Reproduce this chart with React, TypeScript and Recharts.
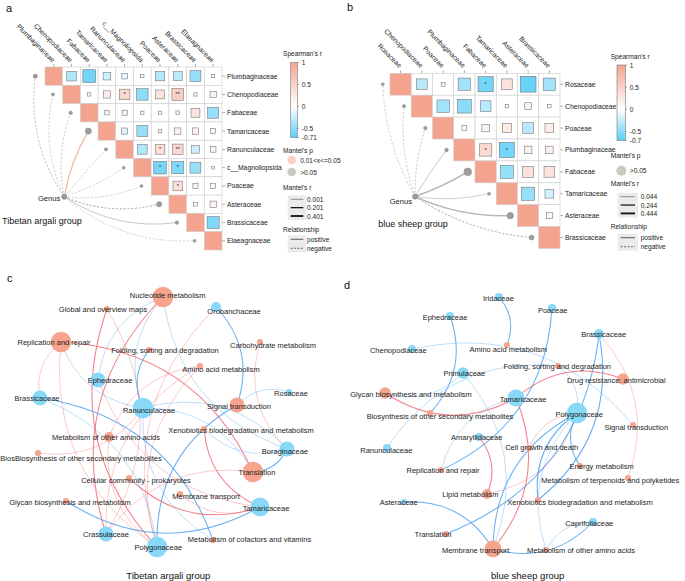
import React from "react";
import { ScatterChart, Scatter, XAxis, YAxis } from "recharts";

const FONT = "'Liberation Sans', Arial, Helvetica, sans-serif";
const POS = "#F4A38F";
const NEG = "#5CCEF7";
const GRID = "#CDCDCD";
const LINK_GREY = "#B7B7AF";
const LINK_PINK = "#F6B8A7";
const NODE_FUNC = "#F6A48D";
const NODE_TAXON = "#88D8F8";
const EDGE_POS = "#F25F6C";
const EDGE_NEG = "#3E9CF1";

// ---------- a: Tibetan argali group ----------
const argaliTaxa = ["Plumbaginaceae", "Chenopodiaceae", "Fabaceae", "Tamaricaceae", "Ranunculaceae", "c__Magnoliopsida", "Poaceae", "Asteraceae", "Brassicaceae", "Elaeagnaceae"];
// r for the cells right of the diagonal, row by row
const argaliR = [
  [-0.35, -0.62, -0.22, -0.12, -0.04, -0.33, -0.3, -0.45, -0.04],
  [0.04, 0.2, 0.42, -0.5, 0.3, 0.52, -0.04, 0.15],
  [-0.07, -0.1, -0.04, -0.04, -0.05, 0.3, -0.45],
  [-0.14, -0.45, 0.05, 0.15, 0.15, 0.1],
  [-0.35, 0.35, 0.42, -0.22, 0.12],
  [-0.6, -0.55, -0.45, -0.03],
  [0.35, 0.1, 0.1],
  [-0.05, 0.15],
  [-0.55],
];
const argaliSig: [number, number, string][] = [[1, 4, "*"], [1, 7, "**"], [4, 6, "*"], [4, 7, "**"], [5, 6, "*"], [5, 7, "*"], [6, 7, "*"]];
const argaliMantelR = [0.15, 0.06, 0.1, 0.3, 0.07, 0.05, 0.05, 0.22, 0.1, 0.05];
const argaliMantelP = ["ns", "ns", "ns", "sig", "ns", "ns", "ns", "ns", "ns", "ns"];
const argaliMantelSign = ["neg", "neg", "neg", "pos", "neg", "neg", "neg", "neg", "pos", "neg"];
const argaliGenus = { x: 0.59, y: 6.59 };
const argaliBarTicks = [1, 0.5, 0, -0.5, -0.71];
const argaliRTicks = ["0.001", "0.201", "0.401"];

// ---------- b: blue sheep group ----------
const sheepTaxa = ["Rosaceae", "Chenopodiaceae", "Poaceae", "Plumbaginaceae", "Fabaceae", "Tamaricaceae", "Asteraceae", "Brassicaceae"];
const sheepR = [
  [-0.3, -0.04, -0.4, -0.6, 0.3, -0.65, -0.4],
  [-0.4, -0.5, -0.3, 0.03, 0.12, -0.03],
  [0.06, 0.15, 0.22, -0.3, 0.2],
  [0.4, -0.6, 0.15, 0.15],
  [-0.45, 0.32, 0.3],
  [-0.45, -0.2],
  [0.1],
];
const sheepSig: [number, number, string][] = [[0, 4, "*"], [3, 4, "*"], [3, 5, "*"]];
const sheepMantelR = [0.06, 0.08, 0.1, 0.1, 0.42, 0.06, 0.32, 0.2];
const sheepMantelP = ["ns", "ns", "ns", "ns", "ns", "ns", "ns", "ns"];
const sheepMantelSign = ["neg", "neg", "neg", "pos", "pos", "pos", "pos", "neg"];
const sheepGenus = { x: 0.68, y: 5.13 };
const sheepBarTicks = [1, 0.5, 0, -0.5, -0.7];
const sheepRTicks = ["0.044", "0.244", "0.444"];

// ---------- c / d: networks (layout coordinates, degree) ----------
type NetNode = { name: string; x: number; y: number; deg: number; kind: "taxon" | "func" };
type NetEdge = [string, string, "pos" | "neg", number];

const argaliNodes: NetNode[] = [
  { name: "Nucleotide metabolism", x: 163, y: 297, deg: 9, kind: "func" },
  { name: "Global and overview maps", x: 107, y: 309, deg: 1, kind: "func" },
  { name: "Orobanchaceae", x: 216, y: 307, deg: 3, kind: "taxon" },
  { name: "Replication and repair", x: 61, y: 342, deg: 9, kind: "func" },
  { name: "Carbohydrate metabolism", x: 260, y: 342, deg: 1, kind: "func" },
  { name: "Folding, sorting and degradation", x: 149, y: 350, deg: 1, kind: "func" },
  { name: "Amino acid metabolism", x: 200, y: 366, deg: 1, kind: "func" },
  { name: "Ephedraceae", x: 98, y: 380, deg: 6, kind: "taxon" },
  { name: "Brassicaceae", x: 40, y: 398, deg: 6, kind: "taxon" },
  { name: "Rosaceae", x: 289, y: 392, deg: 1, kind: "taxon" },
  { name: "Ranunculaceae", x: 143, y: 408, deg: 9, kind: "taxon" },
  { name: "Signal transduction", x: 237, y: 405, deg: 6, kind: "func" },
  { name: "Xenobiotics biodegradation and metabolism", x: 204, y: 429, deg: 1, kind: "func" },
  { name: "Metabolism of other amino acids", x: 109, y: 437, deg: 3, kind: "func" },
  { name: "BiosBiosynthesis of other secondary metabolites", x: 38, y: 453, deg: 1, kind: "func" },
  { name: "Boraginaceae", x: 287, y: 449, deg: 6, kind: "taxon" },
  { name: "Translation", x: 253, y: 472, deg: 9, kind: "func" },
  { name: "Cellular community - prokaryotes", x: 129, y: 478, deg: 1, kind: "func" },
  { name: "Membrane transport", x: 180, y: 494, deg: 1, kind: "func" },
  { name: "Glycan biosynthesis and metabolism", x: 66, y: 501, deg: 1, kind: "func" },
  { name: "Tamaricaceae", x: 260, y: 507, deg: 8, kind: "taxon" },
  { name: "Crassulaceae", x: 106, y: 534, deg: 6, kind: "taxon" },
  { name: "Metabolism of cofactors and vitamins", x: 213, y: 540, deg: 1, kind: "func" },
  { name: "Polygonaceae", x: 157, y: 547, deg: 9, kind: "taxon" },
];

const argaliEdges: NetEdge[] = [
  ["Nucleotide metabolism", "Ranunculaceae", "neg", 1],
  ["Folding, sorting and degradation", "Ranunculaceae", "neg", 2],
  ["Nucleotide metabolism", "Ephedraceae", "neg", 1],
  ["Nucleotide metabolism", "Boraginaceae", "neg", 1],
  ["Nucleotide metabolism", "Crassulaceae", "pos", 2],
  ["Global and overview maps", "Polygonaceae", "pos", 2],
  ["Crassulaceae", "Global and overview maps", "pos", 1],
  ["Replication and repair", "Brassicaceae", "pos", 1],
  ["Replication and repair", "Polygonaceae", "pos", 1],
  ["Replication and repair", "Ranunculaceae", "neg", 1],
  ["Translation", "Replication and repair", "pos", 2],
  ["Signal transduction", "Orobanchaceae", "neg", 2],
  ["Orobanchaceae", "Polygonaceae", "pos", 1],
  ["Carbohydrate metabolism", "Boraginaceae", "pos", 1],
  ["Amino acid metabolism", "Metabolism of other amino acids", "pos", 1],
  ["Amino acid metabolism", "Polygonaceae", "pos", 1],
  ["Amino acid metabolism", "Crassulaceae", "pos", 1],
  ["Metabolism of other amino acids", "Polygonaceae", "pos", 1],
  ["Ephedraceae", "Tamaricaceae", "pos", 1],
  ["Metabolism of cofactors and vitamins", "Brassicaceae", "neg", 2],
  ["Polygonaceae", "Brassicaceae", "neg", 1],
  ["Translation", "Ranunculaceae", "neg", 1],
  ["Boraginaceae", "Ranunculaceae", "neg", 1],
  ["Rosaceae", "Signal transduction", "neg", 1],
  ["Signal transduction", "Polygonaceae", "neg", 2],
  ["Xenobiotics biodegradation and metabolism", "Tamaricaceae", "pos", 2],
  ["Xenobiotics biodegradation and metabolism", "Boraginaceae", "neg", 1],
  ["Translation", "Boraginaceae", "neg", 2],
  ["BiosBiosynthesis of other secondary metabolites", "Ranunculaceae", "pos", 1],
  ["Cellular community - prokaryotes", "Tamaricaceae", "pos", 2],
  ["Membrane transport", "Tamaricaceae", "pos", 1],
  ["Glycan biosynthesis and metabolism", "Tamaricaceae", "neg", 2],
  ["Translation", "Crassulaceae", "pos", 1],
  ["Ranunculaceae", "Metabolism of cofactors and vitamins", "neg", 1],
];

const sheepNodes: NetNode[] = [
  { name: "Iridaceae", x: 499, y: 297, deg: 2, kind: "taxon" },
  { name: "Poaceae", x: 552, y: 308, deg: 2, kind: "taxon" },
  { name: "Ephedraceae", x: 450, y: 316, deg: 2, kind: "taxon" },
  { name: "Brassicaceae", x: 599, y: 334, deg: 3, kind: "taxon" },
  { name: "Amino acid metabolism", x: 507, y: 345, deg: 1, kind: "func" },
  { name: "Chenopodiaceae", x: 412, y: 349, deg: 2, kind: "taxon" },
  { name: "Folding, sorting and degradation", x: 558, y: 366, deg: 1, kind: "func" },
  { name: "Primulaceae", x: 463, y: 373, deg: 4, kind: "taxon" },
  { name: "Drug resistance: antimicrobial", x: 623, y: 379, deg: 4, kind: "func" },
  { name: "Glycan biosynthesis and metabolism", x: 385, y: 393, deg: 4, kind: "func" },
  { name: "Tamaricaceae", x: 516, y: 398, deg: 7, kind: "taxon" },
  { name: "Biosynthesis of other secondary metabolites", x: 430, y: 413, deg: 1, kind: "func" },
  { name: "Polygonaceae", x: 577, y: 413, deg: 9, kind: "taxon" },
  { name: "Signal transduction", x: 633, y: 425, deg: 1, kind: "func" },
  { name: "Amaryllidaceae", x: 479, y: 437, deg: 2, kind: "taxon" },
  { name: "Ranunculaceae", x: 387, y: 448, deg: 2, kind: "taxon" },
  { name: "Cell growth and death", x: 529, y: 448, deg: 1, kind: "func" },
  { name: "Replication and repair", x: 441, y: 470, deg: 1, kind: "func" },
  { name: "Energy metabolism", x: 580, y: 466, deg: 1, kind: "func" },
  { name: "Metabolism of terpenoids and polyketides", x: 628, y: 478, deg: 1, kind: "func" },
  { name: "Lipid metabolism", x: 487, y: 494, deg: 3, kind: "func" },
  { name: "Asteraceae", x: 404, y: 502, deg: 1, kind: "taxon" },
  { name: "Xenobiotics biodegradation and metabolism", x: 538, y: 500, deg: 1, kind: "func" },
  { name: "Caprifoliaceae", x: 593, y: 522, deg: 2, kind: "taxon" },
  { name: "Translation", x: 446, y: 534, deg: 1, kind: "func" },
  { name: "Membrane transport", x: 493, y: 549, deg: 7, kind: "func" },
  { name: "Metabolism of other amino acids", x: 546, y: 550, deg: 1, kind: "func" },
];

const sheepEdges: NetEdge[] = [
  ["Amino acid metabolism", "Iridaceae", "neg", 2],
  ["Biosynthesis of other secondary metabolites", "Ephedraceae", "neg", 2],
  ["Signal transduction", "Chenopodiaceae", "neg", 1],
  ["Replication and repair", "Poaceae", "neg", 2],
  ["Translation", "Brassicaceae", "neg", 2],
  ["Metabolism of terpenoids and polyketides", "Brassicaceae", "pos", 1],
  ["Xenobiotics biodegradation and metabolism", "Brassicaceae", "neg", 2],
  ["Folding, sorting and degradation", "Ranunculaceae", "neg", 1],
  ["Glycan biosynthesis and metabolism", "Primulaceae", "neg", 1],
  ["Membrane transport", "Primulaceae", "neg", 1],
  ["Glycan biosynthesis and metabolism", "Tamaricaceae", "pos", 2],
  ["Drug resistance: antimicrobial", "Tamaricaceae", "pos", 2],
  ["Membrane transport", "Tamaricaceae", "pos", 2],
  ["Tamaricaceae", "Replication and repair", "neg", 1],
  ["Lipid metabolism", "Amaryllidaceae", "pos", 2],
  ["Polygonaceae", "Folding, sorting and degradation", "neg", 1],
  ["Polygonaceae", "Cell growth and death", "pos", 1],
  ["Lipid metabolism", "Polygonaceae", "pos", 1],
  ["Polygonaceae", "Energy metabolism", "neg", 2],
  ["Polygonaceae", "Xenobiotics biodegradation and metabolism", "neg", 2],
  ["Polygonaceae", "Membrane transport", "neg", 2],
  ["Polygonaceae", "Metabolism of other amino acids", "neg", 1],
  ["Membrane transport", "Asteraceae", "neg", 2],
  ["Membrane transport", "Caprifoliaceae", "neg", 2],
  ["Caprifoliaceae", "Metabolism of other amino acids", "neg", 1],
];

// label nudges relative to node centres
const argaliLabelShift: Record<string, [number, number]> = {
  "Nucleotide metabolism": [4.7, -2], "Global and overview maps": [-4, 0], "Orobanchaceae": [18, 4.5],
  "Replication and repair": [-7, 0], "Carbohydrate metabolism": [13, 3], "Folding, sorting and degradation": [16, 0],
  "Amino acid metabolism": [21, 3], "Ephedraceae": [12, 0], "Brassicaceae": [-3, 0], "Rosaceae": [2, 1],
  "Ranunculaceae": [6, 2.5], "Signal transduction": [2, 1], "Xenobiotics biodegradation and metabolism": [37, 1.5],
  "Metabolism of other amino acids": [-3, 0.5], "BiosBiosynthesis of other secondary metabolites": [43, 5],
  "Boraginaceae": [-2, 2.5], "Translation": [4, 0.3], "Cellular community - prokaryotes": [7, 2.7],
  "Membrane transport": [26, 2], "Glycan biosynthesis and metabolism": [4, 1], "Tamaricaceae": [6, 1],
  "Crassulaceae": [0, 0.3], "Metabolism of cofactors and vitamins": [36.5, -1], "Polygonaceae": [1.3, 0],
};
const sheepLabelShift: Record<string, [number, number]> = {
  "Iridaceae": [-0.6, 1.3], "Poaceae": [0.7, 2.4], "Ephedraceae": [-5, 1.3], "Brassicaceae": [4.7, 0.7],
  "Amino acid metabolism": [1.3, 4], "Chenopodiaceae": [-13.7, 1.4], "Folding, sorting and degradation": [-0.8, 0],
  "Primulaceae": [1.3, 0], "Drug resistance: antimicrobial": [-6.7, 1.4], "Glycan biosynthesis and metabolism": [26, 1],
  "Tamaricaceae": [7, 1.7], "Biosynthesis of other secondary metabolites": [10, 3.4], "Polygonaceae": [2.2, 1.7],
  "Signal transduction": [3.3, 2.3], "Amaryllidaceae": [-2.3, 0], "Ranunculaceae": [-0.7, 2.4],
  "Cell growth and death": [12.7, -1], "Replication and repair": [2, 0.7], "Energy metabolism": [21.7, 0],
  "Metabolism of terpenoids and polyketides": [-17.7, 2.4], "Lipid metabolism": [-16.6, 0.7], "Asteraceae": [-5.3, 0],
  "Xenobiotics biodegradation and metabolism": [42, 2.7], "Caprifoliaceae": [-3.7, 1.6], "Translation": [-13, 0.3],
  "Membrane transport": [-17.3, 1.4], "Metabolism of other amino acids": [35, 0],
};

// ---------- helpers ----------
function hexRgb(h: string) {
  const v = parseInt(h.slice(1), 16);
  return [(v >> 16) & 255, (v >> 8) & 255, v & 255];
}
function mix(a: string, b: string, t: number) {
  const p = hexRgb(a), q = hexRgb(b);
  const c = p.map((x, i) => Math.round(x + (q[i] - x) * t));
  return `rgb(${c[0]},${c[1]},${c[2]})`;
}
function corrColor(r: number, rmin: number) {
  return r >= 0 ? mix("#FFFFFF", POS, r) : mix("#FFFFFF", NEG, Math.min(1, r / rmin));
}
// curve bowing away from the triangle (towards bottom-left)
function mantelPath(a: any, b: any, k: number) {
  const dx = b.x - a.x, dy = b.y - a.y, len = Math.hypot(dx, dy) || 1;
  let px = -dy / len, py = dx / len;
  const dot = (-px + py) / Math.SQRT2;
  if (dot < 0) { px = -px; py = -py; }
  const off = k * len * Math.abs(dot);
  const mx = (a.x + b.x) / 2 + px * off, my = (a.y + b.y) / 2 + py * off;
  return `M${a.x},${a.y} Q${mx},${my} ${b.x},${b.y}`;
}
// arc bowing to the right of travel
function arcPath(a: any, b: any, k: number) {
  const dx = b.x - a.x, dy = b.y - a.y;
  const mx = (a.x + b.x) / 2 - dy * k, my = (a.y + b.y) / 2 + dx * k;
  return `M${a.x},${a.y} Q${mx},${my} ${b.x},${b.y}`;
}
const blank = () => <g />;

// ---------- correlation + mantel panel ----------
type CorrProps = {
  taxa: string[]; rows: number[][]; sig: [number, number, string][]; rmin: number;
  mR: number[]; mP: string[]; mSign: string[]; genus: { x: number; y: number }; endShift: number;
  left: number; top: number; width: number; height: number;
  gridLeft: number; gridRight: number; gridTop: number; gridBottom: number; xMin: number;
  colGap: number; genusDx: number; genusDy: number; bend: number;
};

function CorrPanel(p: CorrProps) {
  const n = p.taxa.length;
  const cw = (p.gridRight - p.gridLeft) / n;
  const ch = (p.gridBottom - p.gridTop) / n;
  const idx = p.taxa.map((_, i) => i);
  const cells: any[] = [];
  idx.forEach((i) => {
    for (let j = i; j < n; j++) {
      const s = p.sig.find(([a, b]) => a === i && b === j);
      cells.push({ x: j, y: i, r: i === j ? 1 : p.rows[i][j - i - 1], diag: i === j, sig: s ? s[2] : "" });
    }
  });
  const ends = idx.map((i) => ({ x: i - p.endShift, y: i, i }));
  const plotLeft = p.gridLeft - (-0.5 - p.xMin) * cw;

  const cellShape = (sp: any) => {
    const { cx, cy, payload } = sp;
    const x0 = cx - cw / 2, y0 = cy - ch / 2;
    if (payload.diag) {
      return <rect x={x0} y={y0} width={cw} height={ch} fill={POS} stroke={GRID} strokeWidth={0.6} />;
    }
    const s = Math.min(cw, ch) * 0.92 * Math.sqrt(Math.abs(payload.r));
    return (
      <g>
        <rect x={x0} y={y0} width={cw} height={ch} fill="#fff" stroke={GRID} strokeWidth={0.6} />
        <rect x={cx - s / 2} y={cy - s / 2} width={s} height={s} fill={corrColor(payload.r, p.rmin)} stroke="#6e6e6e" strokeWidth={0.55} />
        {payload.sig && (
          <text x={cx} y={cy + 1.6} textAnchor="middle" fontSize={5.5} fontFamily={FONT} fill="#222">{payload.sig}</text>
        )}
      </g>
    );
  };
  const endShape = (sp: any) => (
    <circle cx={sp.cx} cy={sp.cy} r={1.2 + 6.5 * p.mR[sp.payload.i]} fill="#9c9c9c" stroke="#8a8a8a" strokeWidth={0.4} />
  );
  const genusShape = (sp: any) => (
    <g>
      <circle cx={sp.cx} cy={sp.cy} r={2.6} fill="#9a9a9a" stroke="#777" strokeWidth={0.5} />
      <text x={sp.cx + p.genusDx} y={sp.cy + p.genusDy} textAnchor="end" dominantBaseline="central" fontSize={7.6} fontFamily={FONT} fill="#222">Genus</text>
    </g>
  );

  return (
    <div style={{ position: "absolute", left: p.left, top: p.top }}>
      <ScatterChart
        width={p.width}
        height={p.height}
        margin={{ top: 0, right: 0, left: plotLeft - p.left, bottom: p.height - (p.gridBottom - p.top) }}
      >
        <XAxis
          type="number"
          dataKey="x"
          orientation="top"
          height={p.gridTop - p.top}
          domain={[p.xMin, n - 0.5]}
          ticks={idx}
          interval={0}
          axisLine={false}
          tickLine={{ stroke: "#555", strokeWidth: 0.5 }}
          tickSize={3}
          tickMargin={p.colGap}
          tick={(tp: any) => (
            <text
              x={tp.x}
              y={tp.y}
              transform={`rotate(45, ${tp.x}, ${tp.y})`}
              textAnchor="end"
              dominantBaseline="central"
              fontSize={6.8}
              fontFamily={FONT}
              fill="#222"
            >
              {p.taxa[tp.payload.value]}
            </text>
          )}
        />
        <YAxis
          type="number"
          dataKey="y"
          orientation="right"
          width={p.left + p.width - p.gridRight}
          domain={[-0.5, n - 0.5]}
          reversed
          ticks={idx}
          interval={0}
          axisLine={false}
          tickLine={{ stroke: "#555", strokeWidth: 0.5 }}
          tickSize={3}
          tickMargin={2}
          tick={(tp: any) => (
            <text x={tp.x} y={tp.y} textAnchor="start" dominantBaseline="central" fontSize={6.8} fontFamily={FONT} fill="#222">
              {p.taxa[tp.payload.value]}
            </text>
          )}
        />
        <Scatter data={cells} shape={cellShape} isAnimationActive={false} />
        {idx.map((i) => {
          const color = p.mP[i] === "sig" ? LINK_PINK : LINK_GREY;
          const w = 0.5 + 2.6 * p.mR[i];
          const dash = p.mSign[i] === "neg" ? "2.2 1.6" : undefined;
          return (
            <Scatter
              key={"link" + i}
              data={[p.genus, ends[i]]}
              isAnimationActive={false}
              shape={blank}
              line={(lp: any) => {
                const pts = lp.points || [];
                if (pts.length < 2) return <g />;
                return <path d={mantelPath(pts[0], pts[1], p.bend)} fill="none" stroke={color} strokeWidth={w} strokeDasharray={dash} />;
              }}
            />
          );
        })}
        <Scatter data={ends} shape={endShape} isAnimationActive={false} />
        <Scatter data={[p.genus]} shape={genusShape} isAnimationActive={false} />
      </ScatterChart>
    </div>
  );
}

// ---------- network panel ----------
type NetProps = {
  nodes: NetNode[]; edges: NetEdge[]; shift: Record<string, [number, number]>;
  left: number; top: number; width: number; height: number;
};

function NetPanel(p: NetProps) {
  const byName: Record<string, NetNode> = {};
  p.nodes.forEach((nd) => (byName[nd.name] = nd));
  const radius = (deg: number) => 2.2 + 0.9 * deg;
  const nodeShape = (sp: any) => (
    <circle cx={sp.cx} cy={sp.cy} r={radius(sp.payload.deg)} fill={sp.payload.kind === "taxon" ? NODE_TAXON : NODE_FUNC} />
  );
  const labelShape = (sp: any) => {
    const s = p.shift[sp.payload.name] || [0, 0];
    return (
      <text x={sp.cx + s[0]} y={sp.cy + s[1]} textAnchor="middle" dominantBaseline="central" fontSize={7.5} fontFamily={FONT} fill="#1d1d1d">
        {sp.payload.name}
      </text>
    );
  };
  return (
    <div style={{ position: "absolute", left: p.left, top: p.top }}>
      <ScatterChart width={p.width} height={p.height} margin={{ top: 0, right: 0, left: 0, bottom: 0 }}>
        <XAxis type="number" dataKey="x" domain={[p.left, p.left + p.width]} hide />
        <YAxis type="number" dataKey="y" domain={[p.top, p.top + p.height]} reversed hide />
        {p.edges.map(([s, t, sign, w], k) => {
          const stroke = sign === "pos" ? EDGE_POS : EDGE_NEG;
          const width = w === 1 ? 0.75 : w === 2 ? 1.05 : 1.4;
          const op = w === 1 ? 0.45 : w === 2 ? 0.8 : 0.92;
          return (
            <Scatter
              key={"e" + k}
              data={[byName[s], byName[t]]}
              isAnimationActive={false}
              shape={blank}
              line={(lp: any) => {
                const pts = lp.points || [];
                if (pts.length < 2) return <g />;
                return <path d={arcPath(pts[0], pts[1], 0.3)} fill="none" stroke={stroke} strokeWidth={width} strokeOpacity={op} />;
              }}
            />
          );
        })}
        <Scatter data={p.nodes} shape={nodeShape} isAnimationActive={false} />
        <Scatter data={p.nodes} shape={labelShape} isAnimationActive={false} />
      </ScatterChart>
    </div>
  );
}

// ---------- legends ----------
type LegendProps = {
  id: string; tx: number; bx: number; bw: number; by: number; bh: number; ticks: number[]; min: number;
  pTitle: number; pItems: { fill: string; label: string }[]; pY: number; pX: number; pR: number;
  rTitle: number; rTicks: string[]; rY: number; lx1: number; lx2: number; textX: number;
  relTitle: number; relY: number;
};

function Legend(l: LegendProps) {
  const fs = 6.6;
  const zero = (1 / (1 - l.min)) * 100;
  const ty = (v: number) => l.by + ((1 - v) / (1 - l.min)) * l.bh;
  const rStep = 8.35;
  return (
    <g fontFamily={FONT} fill="#222">
      <defs>
        <linearGradient id={l.id} x1="0" y1="0" x2="0" y2="1">
          <stop offset="0%" stopColor={POS} />
          <stop offset={`${zero}%`} stopColor="#FFFFFF" />
          <stop offset="100%" stopColor={NEG} />
        </linearGradient>
      </defs>
      <text x={l.tx} y={l.by - 9} fontSize={fs} dominantBaseline="central">Spearman's r</text>
      <rect x={l.bx} y={l.by} width={l.bw} height={l.bh} fill={`url(#${l.id})`} stroke="#777" strokeWidth={0.6} />
      {l.ticks.map((v) => (
        <g key={v}>
          <line x1={l.bx + l.bw} x2={l.bx + l.bw + 1.6} y1={ty(v)} y2={ty(v)} stroke="#555" strokeWidth={0.5} />
          <text x={l.bx + l.bw + 4.5} y={ty(v)} fontSize={fs} dominantBaseline="central">{v}</text>
        </g>
      ))}
      <text x={l.tx} y={l.pTitle} fontSize={fs} dominantBaseline="central">Mantel's p</text>
      {l.pItems.map((it, k) => (
        <g key={it.label}>
          <circle cx={l.pX} cy={l.pY + k * 12} r={l.pR} fill={it.fill} />
          <text x={l.pX + 8.5} y={l.pY + k * 12} fontSize={fs} dominantBaseline="central">{it.label}</text>
        </g>
      ))}
      <text x={l.tx} y={l.rTitle} fontSize={fs} dominantBaseline="central">Mantel's r</text>
      <rect x={l.lx1 - 3} y={l.rY - 4} width={l.lx2 - l.lx1 + 6} height={2 * rStep + 8} fill="#EBEBEB" />
      {l.rTicks.map((t, k) => (
        <g key={t}>
          <line x1={l.lx1} x2={l.lx2} y1={l.rY + k * rStep} y2={l.rY + k * rStep} stroke={k === 0 ? "#666" : "#1a1a1a"} strokeWidth={0.7 + k * 0.6} />
          <text x={l.textX} y={l.rY + k * rStep} fontSize={fs} dominantBaseline="central">{t}</text>
        </g>
      ))}
      <text x={l.tx} y={l.relTitle} fontSize={fs} dominantBaseline="central">Relationship</text>
      <rect x={l.lx1 - 3} y={l.relY - 4} width={l.lx2 - l.lx1 + 6} height={17} fill="#EBEBEB" />
      <line x1={l.lx1} x2={l.lx2} y1={l.relY} y2={l.relY} stroke="#666" strokeWidth={1.1} />
      <text x={l.textX} y={l.relY} fontSize={fs} dominantBaseline="central">positive</text>
      <line x1={l.lx1} x2={l.lx2} y1={l.relY + 9} y2={l.relY + 9} stroke="#666" strokeWidth={1.1} strokeDasharray="2 1.4" />
      <text x={l.textX} y={l.relY + 9} fontSize={fs} dominantBaseline="central">negative</text>
    </g>
  );
}

export default function App() {
  return (
    <div style={{ position: "relative", width: 685, height: 581, background: "#fff", overflow: "hidden", fontFamily: FONT }}>
      <style>{"body{margin:0}"}</style>
      <CorrPanel
        taxa={argaliTaxa} rows={argaliR} sig={argaliSig} rmin={-0.71}
        mR={argaliMantelR} mP={argaliMantelP} mSign={argaliMantelSign} genus={argaliGenus} endShift={1.05}
        left={0} top={0} width={345} height={262}
        gridLeft={45} gridRight={222} gridTop={67} gridBottom={250} xMin={-2.5}
        colGap={3} genusDx={-4} genusDy={1.5} bend={0.22}
      />
      <CorrPanel
        taxa={sheepTaxa} rows={sheepR} sig={sheepSig} rmin={-0.7}
        mR={sheepMantelR} mP={sheepMantelP} mSign={sheepMantelSign} genus={sheepGenus} endShift={0.84}
        left={340} top={0} width={345} height={260}
        gridLeft={390} gridRight={560} gridTop={73.3} gridBottom={248.5} xMin={-1.5}
        colGap={4} genusDx={-3} genusDy={5} bend={0.14}
      />
      <NetPanel nodes={argaliNodes} edges={argaliEdges} shift={argaliLabelShift} left={0} top={285} width={342} height={296} />
      <NetPanel nodes={sheepNodes} edges={sheepEdges} shift={sheepLabelShift} left={342} top={285} width={343} height={296} />
      <svg width={685} height={581} style={{ position: "absolute", left: 0, top: 0, pointerEvents: "none" }}>
        <g fontFamily={FONT} fill="#111">
          <text x={6} y={11.7} fontSize={11}>a</text>
          <text x={347} y={10.7} fontSize={11}>b</text>
          <text x={7} y={282} fontSize={11}>c</text>
          <text x={344} y={289} fontSize={11}>d</text>
          <text x={2} y={224} fontSize={9}>Tibetan argali group</text>
          <text x={378.3} y={226.5} fontSize={9}>blue sheep group</text>
          <text x={168.3} y={579} fontSize={9.5} textAnchor="middle">Tibetan argali group</text>
          <text x={527.7} y={579} fontSize={9.5} textAnchor="middle">blue sheep group</text>
        </g>
        <Legend
          id="gradA" tx={283} bx={290.7} bw={6.6} by={62.5} bh={75} ticks={argaliBarTicks} min={-0.71}
          pTitle={150} pItems={[{ fill: "#F9CFC3", label: "0.01<x<=0.05" }, { fill: "#C9C9C1", label: ">0.05" }]} pY={160} pX={291.7} pR={4.3}
          rTitle={187} rTicks={argaliRTicks} rY={199.3} lx1={290.7} lx2={303.3} textX={307}
          relTitle={229} relY={239.3}
        />
        <Legend
          id="gradB" tx={610.7} bx={617} bw={8.3} by={65} bh={75.3} ticks={sheepBarTicks} min={-0.7}
          pTitle={155.3} pItems={[{ fill: "#C9C9C1", label: ">0.05" }]} pY={170.7} pX={621.3} pR={5}
          rTitle={183.3} rTicks={sheepRTicks} rY={196.7} lx1={620.7} lx2={635} textX={640.7}
          relTitle={226.7} relY={237.7}
        />
      </svg>
    </div>
  );
}
